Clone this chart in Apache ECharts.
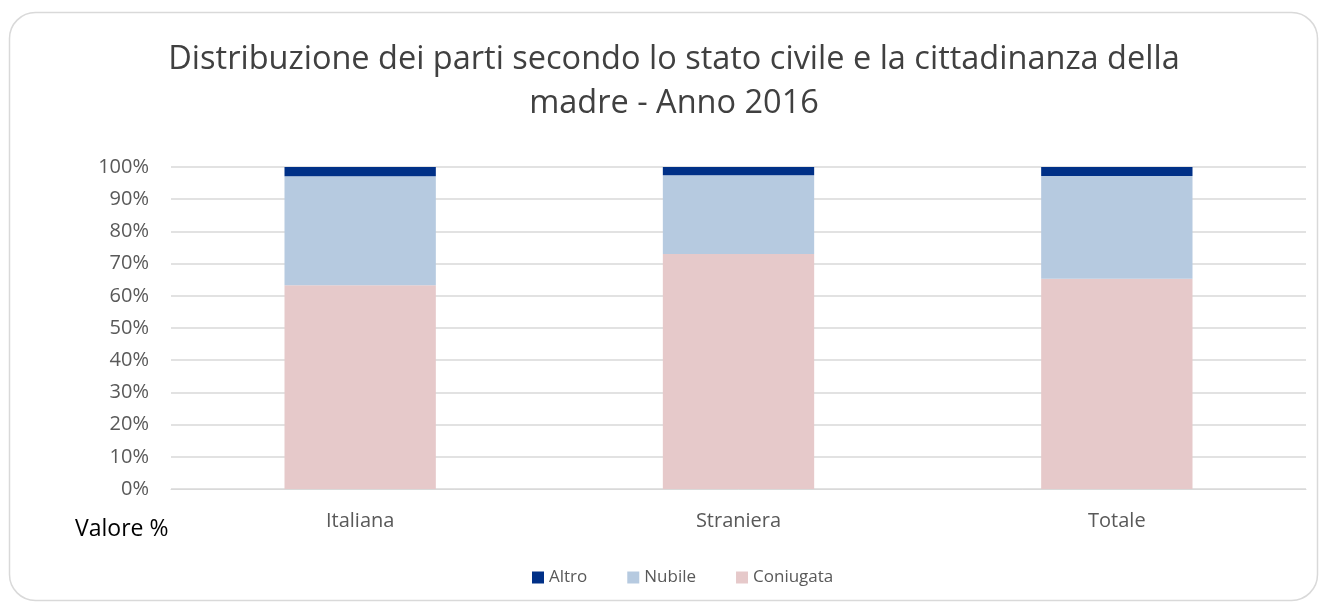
<!DOCTYPE html>
<html>
<head>
<meta charset="utf-8">
<script src="https://cdn.jsdelivr.net/npm/echarts@6/dist/echarts.min.js"></script>
<style>
  html, body { margin: 0; padding: 0; background: #fff; }
  #chart { width: 1327px; height: 608px; }
</style>
</head>
<body>
<div id="chart"></div>
<script>
// categorie e valori (%)
var categorie = ["Italiana", "Straniera", "Totale"];
var coniugata = [63.3, 73.0, 65.3];
var nubile = [33.8, 24.4, 31.9];
var altro = [2.9, 2.6, 2.8];

var titolo = "Distribuzione dei parti secondo lo stato civile e la cittadinanza della\nmadre - Anno 2016";
var font = "'Open Sans', 'Liberation Sans', sans-serif";

var myChart = echarts.init(document.getElementById("chart"));
myChart.setOption({
  backgroundColor: "#fff",
  textStyle: { fontFamily: font },
  graphic: [
    {
      type: "rect",
      shape: { x: 9.5, y: 12.5, width: 1308, height: 588, r: 26 },
      style: { fill: "none", stroke: "#d9d9d9", lineWidth: 1.5 },
      silent: true
    },
    {
      // titolo centrato sul grafico (leggermente a destra del centro pagina)
      type: "text",
      x: 674,
      y: 38,
      style: {
        text: titolo,
        align: "center",
        verticalAlign: "top",
        fontSize: 32.5,
        lineHeight: 44,
        fill: "#404040",
        fontFamily: font
      }
    },
    {
      type: "text",
      left: 75,
      top: 518,
      style: { text: "Valore %", fontSize: 23, fill: "#000", fontFamily: font }
    }
  ],
  legend: {
    bottom: 17,
    left: 527,
    icon: "rect",
    itemWidth: 12,
    itemHeight: 12,
    itemGap: 40,
    data: ["Altro", "Nubile", "Coniugata"],
    textStyle: { fontSize: 17, color: "#595959", fontFamily: font }
  },
  grid: { left: 171, right: 21, top: 167, bottom: 119 },
  xAxis: {
    type: "category",
    data: categorie,
    axisTick: { show: false },
    axisLine: { lineStyle: { color: "#d9d9d9" } },
    axisLabel: { fontSize: 20, color: "#595959", margin: 22, fontFamily: font }
  },
  yAxis: {
    type: "value",
    min: 0,
    max: 100,
    interval: 10,
    axisLine: { show: false },
    axisTick: { show: false },
    splitLine: { lineStyle: { color: "#d9d9d9", width: 1.5 } },
    axisLabel: {
      formatter: "{value}%",
      fontSize: 20,
      color: "#595959",
      margin: 22,
      fontFamily: font
    }
  },
  series: [
    {
      name: "Coniugata",
      type: "bar",
      stack: "tot",
      data: coniugata,
      barWidth: "40%",
      itemStyle: { color: "#e6c9ca" }
    },
    {
      name: "Nubile",
      type: "bar",
      stack: "tot",
      data: nubile,
      itemStyle: { color: "#b6cae0" }
    },
    {
      name: "Altro",
      type: "bar",
      stack: "tot",
      data: altro,
      itemStyle: { color: "#003087" }
    }
  ]
});
</script>
</body>
</html>
